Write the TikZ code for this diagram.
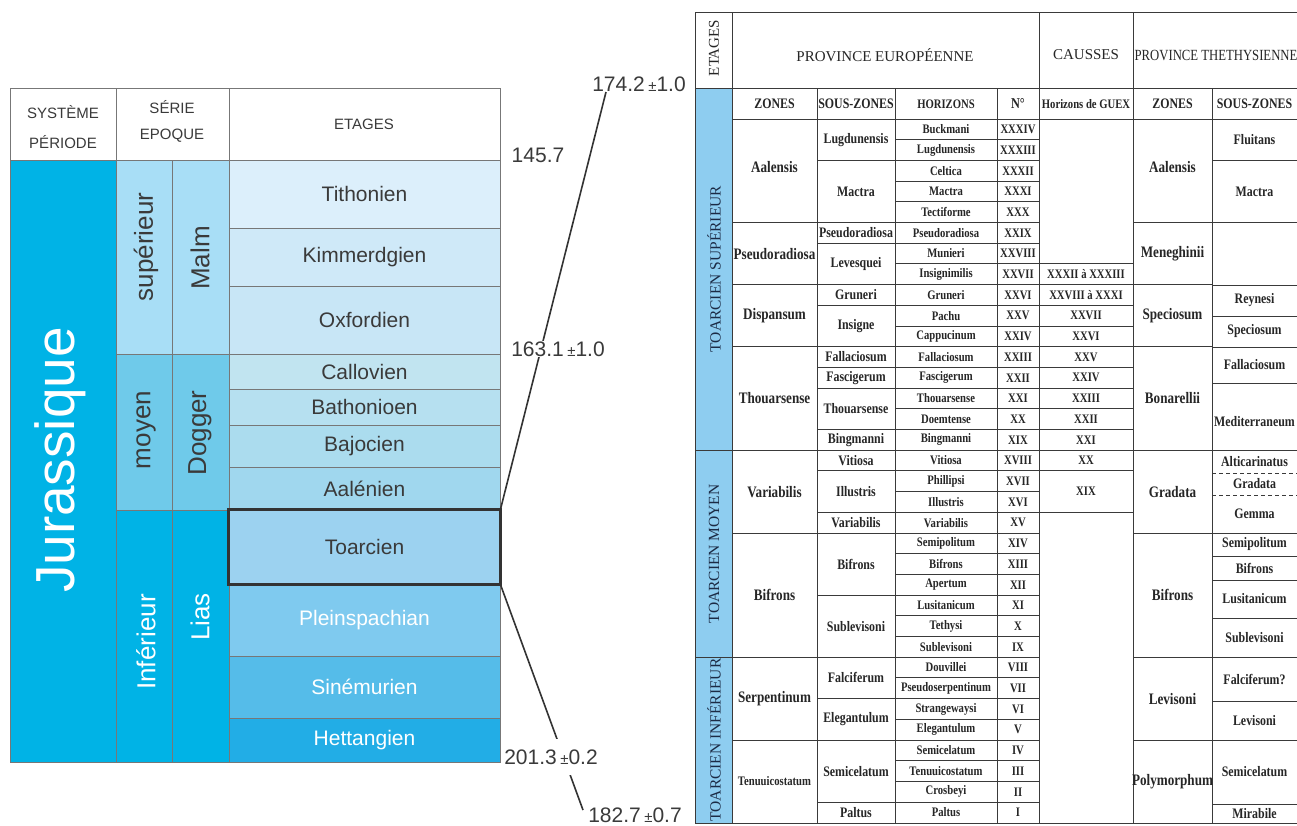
\documentclass[tikz,border=0pt]{standalone}
\usepackage{fontspec}
\setmainfont{Liberation Serif}
\setsansfont{Liberation Sans}
\newfontfamily\condfont[FakeStretch=0.82]{Liberation Serif}
\newcommand\fsz[1]{\fontsize{#1}{#1}\selectfont}

\definecolor{jura}{HTML}{00B3E6}
\definecolor{supc}{HTML}{A8DEF6}
\definecolor{moyc}{HTML}{6FCAEA}
\definecolor{infc}{HTML}{00B3E6}
\definecolor{tith}{HTML}{DCEFFB}
\definecolor{kimm}{HTML}{CFE9F8}
\definecolor{oxfo}{HTML}{C8E6F6}
\definecolor{call}{HTML}{C1E4F0}
\definecolor{bath}{HTML}{B6E0F0}
\definecolor{bajo}{HTML}{ABDCEE}
\definecolor{aale}{HTML}{A0D7EE}
\definecolor{toar}{HTML}{9CD2F0}
\definecolor{plei}{HTML}{7FCAEF}
\definecolor{sine}{HTML}{55BCE9}
\definecolor{hett}{HTML}{22ADE6}
\definecolor{etag}{HTML}{8ECDF0}
\definecolor{lrule}{HTML}{777777}
\definecolor{rule}{HTML}{3A3A3A}
\definecolor{txt}{HTML}{3A3A3A}
\definecolor{navy}{HTML}{1C2B45}

\begin{document}
\begin{tikzpicture}[x=1pt,y=-1pt,
	declare function={ry(\i)=119+\i*20.7;},
	lcell/.style = {draw=lrule, line width=0.8pt},
	etage/.style = {draw=lrule, line width=0.8pt, minimum width=271,
		inner sep=0, font=\sffamily\fsz{21}},
	vlbl/.style = {rotate=90, font=\sffamily\fsz{26}},
	hdl/.style = {text=txt, align=center},
	numlbl/.style = {font=\sffamily\fsz{21}, text=txt, inner sep=1pt},
	tabline/.style = {draw=rule, line width=0.9pt},
	hdr/.style = {font=\fsz{15}, text=black!85},
	etg/.style = {rotate=90, font=\fsz{15.5}, text=navy},
	subh/.style = {font=\condfont\bfseries\fsz{14.5}, text=black!85},
	zone/.style = {font=\condfont\bfseries\fsz{16}, text=black!85},
	szone/.style = {font=\condfont\bfseries\fsz{14.5}, text=black!85},
	hzn/.style = {font=\condfont\bfseries\fsz{13}, text=black!85},
	romn/.style = {font=\condfont\bfseries\fsz{13}, text=black!85}]

	\path[use as bounding box, fill=white] (0,0) rectangle (1297,825);

	% left table: header
	\draw[lcell] (10,88) rectangle (500,160);
	\draw[lcell] (116,88) -- (116,160) (229,88) -- (229,160);
	\node[hdl, font=\sffamily\fontsize{15}{30}\selectfont] (hsys) at (63,127) {SYSTÈME\\PÉRIODE};
	\node[hdl, font=\sffamily\fontsize{15}{26}\selectfont] (hser) at (172,121) {SÉRIE\\EPOQUE};
	\node[hdl, font=\sffamily\fsz{15}] (heta) at (364,124) {ETAGES};

	% left table: systeme and series
	\draw[lcell, fill=jura] (10,160) rectangle (116,762);
	\foreach \ya/\yb/\col in {160/354/supc, 354/510/moyc, 510/762/infc} {
		\draw[lcell, fill=\col] (116,\ya) rectangle (172,\yb);
		\draw[lcell, fill=\col] (172,\ya) rectangle (229,\yb);
	}
	\node[rotate=90, font=\sffamily\fsz{55}, text=white] (jur) at (60,460) {Jurassique};
	\node[vlbl, text=txt] (sup) at (146,247) {supérieur};
	\node[vlbl, text=txt] (malm) at (200,258) {Malm};
	\node[vlbl, text=txt] (moy) at (146,430) {moyen};
	\node[vlbl, text=txt] (dogg) at (200,433) {Dogger};
	\node[vlbl, text=white] (inf) at (146,642) {Inférieur};
	\node[vlbl, text=white] (lias) at (200,617) {Lias};

	% left table: etages
	\foreach \nm/\ya/\yb/\lbl/\tc in {tith/160/228/Tithonien/txt,
		kimm/228/286/Kimmerdgien/txt, oxfo/286/354/Oxfordien/txt,
		call/354/389/Callovien/txt, bath/389/425/Bathonioen/txt,
		bajo/425/467/Bajocien/txt, aale/467/510/Aalénien/txt,
		toar/510/584/Toarcien/txt, plei/584/656/Pleinspachian/white,
		sine/656/718/Sinémurien/white, hett/718/762/Hettangien/white}
		\node[etage, fill=\nm, text=\tc, minimum height={\yb-\ya}]
			(\nm) at (364.5,{(\ya+\yb)/2}) {\lbl};
	\draw[line width=3pt, draw=black!80] (toar.north west) rectangle (toar.south east);

	% ages and links to the toarcien
	\coordinate (c174) at (606,92);
	\coordinate (c183) at (583,810);
	\draw[line width=1.6pt, draw=black!80] (toar.north east) -- (c174);
	\draw[line width=1.6pt, draw=black!80] (toar.south east) -- (c183);
	\node[numlbl] (a145) at (538,155) {145.7};
	\node[numlbl, fill=white] (a163) at (558,349) {163.1\,{\fsz{15}±}1.0};
	\node[numlbl] (a174) at (639,84) {174.2\,{\fsz{15}±}1.0};
	\node[numlbl, fill=white, minimum height=36] (a201) at (551,757) {201.3\,{\fsz{15}±}0.2};
	\node[numlbl] (a183) at (635,815) {182.7\,{\fsz{15}±}0.7};

	% right table: frame
	\fill[etag] (695,88) rectangle (732,823);
	\draw[tabline] (1297,12) -- (695,12) -- (695,823) -- (1297,823);
	\draw[tabline] (695,88) -- (1297,88);
	\draw[tabline] (732,119) -- (1297,119);
	\foreach \x in {732,1039,1133} \draw[tabline] (\x,12) -- (\x,823);
	\foreach \x in {817,895,997,1212} \draw[tabline] (\x,88) -- (\x,823);

	% right table: row rules
	\foreach \i in {1,...,33} \draw[tabline] (895,{ry(\i)}) -- (1039,{ry(\i)});
	\foreach \i in {2,5,6,8,9,11,12,13,15,16,17,19,20,23,26,28,30,33}
		\draw[tabline] (817,{ry(\i)}) -- (895,{ry(\i)});
	\foreach \i in {5,8,11,20,30} \draw[tabline] (732,{ry(\i)}) -- (817,{ry(\i)});
	\foreach \i in {16,26} \draw[tabline] (695,{ry(\i)}) -- (817,{ry(\i)});
	\foreach \i in {7,...,17,19} \draw[tabline] (1039,{ry(\i)}) -- (1133,{ry(\i)});
	\foreach \i in {5,8,11,16,20,26,30} \draw[tabline] (1133,{ry(\i)}) -- (1212,{ry(\i)});
	\foreach \y in {160.4,222.5,285,316,347,383,450,533,556,580,618,657,701,740,804}
		\draw[tabline] (1212,\y) -- (1297,\y);
	\foreach \y in {473,495} \draw[tabline, dash pattern=on 4pt off 3pt] (1212,\y) -- (1297,\y);

	% right table: headers
	\node[hdr, rotate=90] (retag) at (714,48) {ETAGES};
	\node[hdr] (peur) at (885,55) {PROVINCE EUROPÉENNE};
	\node[hdr] (caus) at (1086,55) {CAUSSES};
	\node[hdr, font=\condfont\fsz{15.5}] (pteth) at (1216,55) {PROVINCE THETHYSIENNE};
	\node[subh] (hz1) at (774.5,103.5) {ZONES};
	\node[subh] (hsz1) at (856,103.5) {SOUS-ZONES};
	\node[subh, font=\condfont\bfseries\fsz{13}] (hhor) at (946,104) {HORIZONS};
	\node[subh, font=\condfont\bfseries\fsz{15}] (hnum) at (1018,103.5) {N°};
	\node[subh, font=\condfont\bfseries\fsz{13}] (hguex) at (1086,104) {Horizons de GUEX};
	\node[subh] (hz2) at (1172.5,103.5) {ZONES};
	\node[subh] (hsz2) at (1254.5,103.5) {SOUS-ZONES};

	% right table: etages
	\node[etg] (tsup) at (714,{(88+ry(16))/2}) {TOARCIEN SUPÉRIEUR};
	\node[etg] (tmoy) at (714,{(ry(16)+ry(26))/2}) {TOARCIEN MOYEN};
	\node[etg] (tinf) at (714,{(ry(26)+ry(34))/2}) {TOARCIEN INFÉRIEUR};

	% right table: province europeenne
	\foreach \t/\a/\b [count=\k] in {Aalensis/0/4.6, Pseudoradiosa/5/8, Dispansum/8/11,
		Thouarsense/11/16, Variabilis/16/20, Bifrons/20/26, Serpentinum/26/30}
		\node[zone] (ze\k) at (774.5,{ry((\a+\b)/2)}) {\t};
	\node[zone, font=\condfont\bfseries\fsz{13}] (ze8) at (774.5,{ry(32)}) {Tenuuicostatum};
	\foreach \t/\a/\b [count=\k] in {Lugdunensis/0/2, Mactra/2/5, Pseudoradiosa/5/6,
		Levesquei/6/8, Gruneri/8/9, Insigne/9/11, Fallaciosum/11/12, Fascigerum/12/13,
		Thouarsense/13/15, Bingmanni/15/16, Vitiosa/16/17, Illustris/17/19,
		Variabilis/19/20, Bifrons/20/23, Sublevisoni/23/26, Falciferum/26/28,
		Elegantulum/28/30, Semicelatum/30/33, Paltus/33/34}
		\node[szone] (se\k) at (856,{ry((\a+\b)/2)}) {\t};
	\foreach \t [count=\k from 0] in {Buckmani, Lugdunensis, Celtica, Mactra, Tectiforme,
		Pseudoradiosa, Munieri, Insignimilis, Gruneri, Pachu, Cappucinum, Fallaciosum,
		Fascigerum, Thouarsense, Doemtense, Bingmanni, Vitiosa, Phillipsi, Illustris,
		Variabilis, Semipolitum, Bifrons, Apertum, Lusitanicum, Tethysi, Sublevisoni,
		Douvillei, Pseudoserpentinum, Strangewaysi, Elegantulum, Semicelatum,
		Tenuuicostatum, Crosbeyi, Paltus}
		\node[hzn] (hz-\k) at (946,{ry(\k+0.5)}) {\t};
	\foreach \t [count=\k from 0] in {XXXIV, XXXIII, XXXII, XXXI, XXX, XXIX, XXVIII,
		XXVII, XXVI, XXV, XXIV, XXIII, XXII, XXI, XX, XIX, XVIII, XVII, XVI, XV, XIV,
		XIII, XII, XI, X, IX, VIII, VII, VI, V, IV, III, II, I}
		\node[romn] (nr-\k) at (1018,{ry(\k+0.5)}) {\t};

	% right table: causses
	\foreach \t/\a/\b [count=\k] in {XXXII à XXXIII/7/8, XXVIII à XXXI/8/9, XXVII/9/10,
		XXVI/10/11, XXV/11/12, XXIV/12/13, XXIII/13/14, XXII/14/15, XXI/15/16,
		XX/16/17, XIX/17/19}
		\node[romn] (gx\k) at (1086,{ry((\a+\b)/2)}) {\t};

	% right table: province thethysienne
	\foreach \t/\a/\b [count=\k] in {Aalensis/0/4.6, Meneghinii/5/8, Speciosum/8/11,
		Bonarellii/11/16, Gradata/16/20, Bifrons/20/26, Levisoni/26/30, Polymorphum/30/34}
		\node[zone] (zt\k) at (1172.5,{ry((\a+\b)/2)}) {\t};
	\foreach \t/\ya/\yb [count=\k] in {Fluitans/119/160.4, Mactra/160.4/222.5,
		Reynesi/285/316, Speciosum/316/347, Fallaciosum/347/383, Mediterraneum/383/460,
		Alticarinatus/450/473, Gradata/473/495, Gemma/495/533, Semipolitum/533/556,
		Bifrons/556/580, Lusitanicum/580/618, Sublevisoni/618/657, Falciferum?/657/701,
		Levisoni/701/740, Semicelatum/740/804, Mirabile/804/823}
		\node[szone] (st\k) at (1254.5,{(\ya+\yb)/2}) {\t};

\end{tikzpicture}
\end{document}
